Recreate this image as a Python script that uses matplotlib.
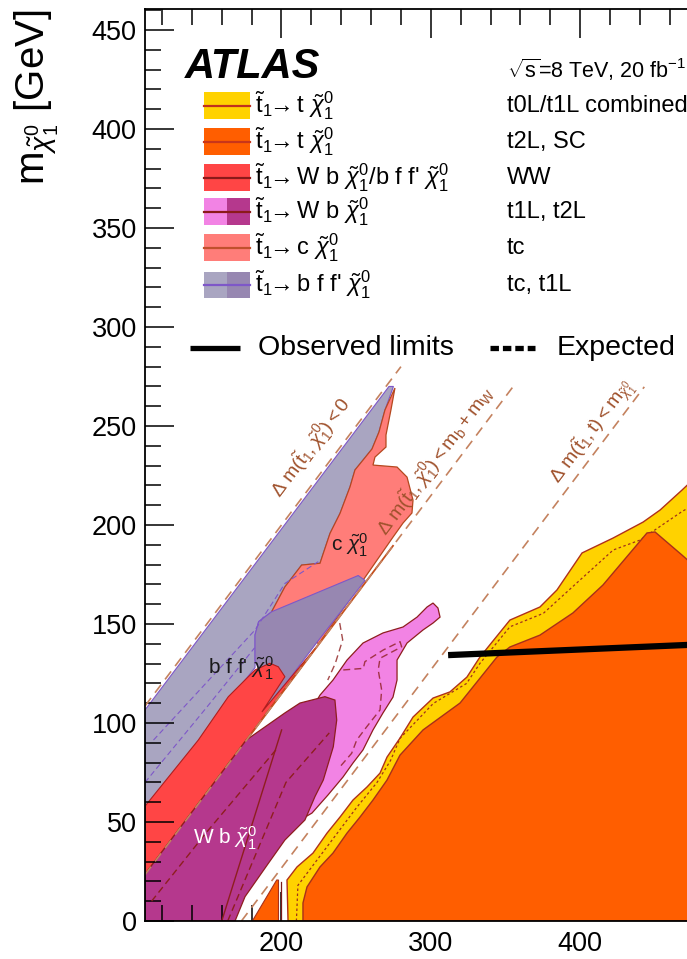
import matplotlib
matplotlib.use('Agg')
import matplotlib.pyplot as plt
from matplotlib.patches import Rectangle
from matplotlib.lines import Line2D
import numpy as np

plt.rcParams['font.family'] = ['Liberation Sans', 'DejaVu Sans']
plt.rcParams['mathtext.fontset'] = 'custom'
plt.rcParams['mathtext.rm'] = 'Liberation Sans'
plt.rcParams['mathtext.it'] = 'Liberation Sans:italic'
plt.rcParams['mathtext.bf'] = 'Liberation Sans:bold'

# ---------------- axis ranges and ticks ----------------
x_range = [108.6, 471.6]
y_range = [0.0, 460.5]
x_major = [200, 300, 400]
x_minor = list(range(120, 480, 20))
y_major = list(range(0, 451, 50))
y_minor = list(range(0, 461, 10))

# ---------------- kinematic limits: m_chi = m_stop - offset ----------------
kin_offsets = [0.0, 85.2, 173.2]
kin_x_start = [108.6, 108.6, 173.2]
kin_x_end = [280.0, 355.0, 443.0]
kin_labels = [r'$\Delta\ \mathrm{m}(\tilde{\mathrm{t}}_1,\tilde{\chi}_1^0) < 0$',
              r'$\Delta\ \mathrm{m}(\tilde{\mathrm{t}}_1,\tilde{\chi}_1^0) < \mathrm{m}_\mathrm{b} + \mathrm{m}_\mathrm{W}$',
              r'$\Delta\ \mathrm{m}(\tilde{\mathrm{t}}_1,\mathrm{t}) < \mathrm{m}_{\tilde{\chi}_1^0}$']
kin_label_x = [220.0, 303.5, 408.6]
kin_label_y = [239.0, 232.3, 247.0]

# ---------------- exclusion regions (m_stop, m_chi) ----------------
# t0L/t1L combined (yellow)
yellow_x = [204.4, 203.7, 210.4, 221.1, 230.5, 239.2, 247.9, 257.3, 266.0, 270.7, 279.4, 288.1,
            301.5, 312.8, 324.2, 332.9, 353.0, 373.1, 384.5, 401.3, 422.0, 442.2, 453.6, 468.3,
            480.0, 480.0]
yellow_y = [0.0, 20.7, 27.3, 34.3, 44.4, 52.5, 61.1, 67.7, 74.7, 82.8, 92.4, 103.0,
            112.6, 115.7, 123.2, 133.3, 152.0, 158.6, 167.2, 185.9, 193.4, 201.5, 207.6, 217.7,
            226.0, 0.0]
# expected limit inside the yellow band
yellow_exp_x = [210.0, 211.0, 224.0, 237.0, 250.0, 264.0, 273.0, 279.4, 301.7, 324.0, 332.9,
                353.0, 375.4, 399.9, 422.2, 440.1, 468.0, 480.0]
yellow_exp_y = [0.0, 18.0, 31.0, 44.0, 57.0, 70.0, 81.0, 92.3, 109.9, 120.0, 130.1,
                148.6, 155.4, 172.2, 187.4, 192.4, 206.7, 212.0]

# t2L, SC (orange)
orange_x = [214.4, 214.4, 217.1, 225.8, 234.5, 243.9, 252.6, 261.3, 270.7, 279.4, 294.8, 319.6,
            344.3, 353.0, 373.1, 395.2, 415.3, 444.8, 450.2, 468.3, 480.0, 480.0]
orange_y = [0.0, 9.1, 17.2, 27.3, 34.3, 44.4, 52.5, 61.1, 71.2, 83.8, 96.5, 110.1,
            133.3, 138.4, 144.4, 155.6, 169.7, 196.0, 196.5, 184.8, 177.0, 0.0]
orange2_x = [180.5, 196.8, 198.0, 198.0]
orange2_y = [0.0, 20.7, 20.7, 0.0]
gap_line_x = [200.0, 200.0]
gap_line_y = [0.0, 19.5]

# tc, t1L: b f f' chi (light lavender)
lav_x = [108.6, 272.0, 275.0, 269.3, 265.3, 260.6, 254.6, 249.2, 245.9, 239.2, 232.5, 228.0,
         225.8, 213.5, 202.3, 193.4, 184.7, 182.3, 182.3, 164.4, 144.3, 108.6]
lav_y = [106.6, 270.0, 270.0, 258.1, 247.0, 238.4, 232.8, 227.8, 219.3, 205.9, 195.8, 185.7,
         180.7, 179.8, 168.8, 156.2, 151.2, 144.5, 128.0, 111.0, 89.0, 56.0]
# t1L part (darker lavender)
dlav_x = [251.4, 193.4, 184.7, 182.3, 182.3, 185.0, 188.0, 205.0, 224.0, 240.0, 256.0]
dlav_y = [174.5, 156.2, 151.2, 144.5, 131.8, 127.0, 106.0, 122.0, 141.0, 156.5, 172.0]

# tc: c chi (salmon)
salmon_x = [276.0, 273.3, 270.0, 270.0, 262.6, 261.3, 277.4, 284.1, 288.1, 287.4, 281.4, 274.7,
            225.0, 193.4, 202.3, 213.5, 225.8, 228.0, 232.5, 239.2, 245.9, 249.2, 254.6, 260.6,
            265.3, 269.3]
salmon_y = [269.2, 258.1, 245.5, 239.4, 234.3, 230.3, 229.3, 224.2, 212.6, 206.1, 201.0, 193.9,
            140.0, 156.2, 168.8, 179.8, 180.7, 185.7, 195.8, 205.9, 219.3, 227.8, 232.8, 238.4,
            247.0, 258.1]

# WW (red)
red_x = [108.6, 224.0, 186.9, 202.3, 197.9, 192.3, 182.3, 164.4, 144.3, 108.6]
red_y = [23.6, 139.0, 105.6, 123.4, 128.4, 130.2, 126.8, 113.3, 91.4, 58.0]

# t2L (pink)
pink_x = [212.4, 219.1, 225.8, 234.5, 243.9, 254.6, 268.0, 281.4, 290.8, 297.5, 301.5, 304.8,
          306.2, 301.5, 294.8, 284.1, 277.4, 277.4, 274.7, 268.0, 261.3, 254.6, 247.9, 241.2,
          231.1, 220.4, 212.4]
pink_y = [91.4, 105.6, 114.1, 121.7, 131.8, 140.4, 145.5, 148.5, 153.5, 158.6, 160.6, 158.1,
          153.5, 150.5, 147.0, 140.4, 131.8, 121.7, 113.1, 105.1, 96.5, 86.4, 79.8, 72.7,
          63.6, 54.5, 51.0]
pink_exp_x = [241.4, 254.8, 255.9, 268.2, 279.4, 280.5, 266.0, 264.8, 267.1, 266.0, 257.1, 250.4,
              247.0, 239.2]
pink_exp_y = [126.8, 127.6, 131.0, 136.9, 141.1, 138.5, 132.7, 126.8, 116.7, 106.6, 98.1, 91.4,
              84.7, 77.9]
pink_exp2_x = [239.0, 241.0, 236.0, 231.0]
pink_exp2_y = [150.5, 142.0, 130.0, 121.7]

# t1L (magenta)
mag_x = [108.6, 108.6, 176.4, 202.3, 212.4, 229.1, 235.8, 237.0, 234.7, 228.0, 222.4, 215.7,
         202.3, 191.2, 175.6, 168.9]
mag_y = [0.0, 23.6, 91.4, 105.1, 110.1, 113.3, 111.6, 101.5, 88.0, 71.2, 62.8, 51.0,
         40.9, 29.1, 12.3, 0.0]
mag_line1_x = [113.0, 150.0, 198.0]
mag_line1_y = [10.0, 45.0, 88.0]
mag_line2_x = [160.0, 200.1]
mag_line2_y = [0.0, 96.5]
mag_line3_x = [164.0, 203.0, 232.0]
mag_line3_y = [0.0, 70.0, 95.0]

# purple contours inside lavender
pur1_x = [114.3, 182.3, 202.3, 224.6]
pur1_y = [91.4, 147.0, 170.5, 181.5]
pur2_x = [108.6, 150.0, 182.0]
pur2_y = [70.0, 108.0, 138.0]

# observed limit segment
obs_x = [311.6, 480.0]
obs_y = [134.3, 139.7]

# ---------------- legend content ----------------
arrow = r'$\tilde{\mathrm{t}}_1\!\!\rightarrow\!\!$'
leg_labels = [arrow + r' t $\tilde{\chi}_1^0$',
              arrow + r' t $\tilde{\chi}_1^0$',
              arrow + r" W b $\tilde{\chi}_1^0$/b f f' $\tilde{\chi}_1^0$",
              arrow + r' W b $\tilde{\chi}_1^0$',
              arrow + r' c $\tilde{\chi}_1^0$',
              arrow + r" b f f' $\tilde{\chi}_1^0$"]
leg_analyses = ['t0L/t1L combined', 't2L, SC', 'WW', 't1L, t2L', 'tc', 'tc, t1L']

# colours
c_yellow = '#FFD200'
c_orange = '#FF5E00'
c_red = '#FF4545'
c_pink = '#F283E4'
c_mag = '#B5388D'
c_salmon = '#FF7D79'
c_lav = '#A9A5C1'
c_dlav = '#9787B1'
c_dark = '#8E1E1E'
c_kin = '#C4825F'
c_kin_txt = '#A0522D'
c_purple = '#7E57C8'

leg_left = [c_yellow, c_orange, c_red, c_pink, c_salmon, c_lav]
leg_right = [c_yellow, c_orange, c_red, c_mag, c_salmon, c_dlav]
leg_line = ['#C0301E', '#C8361A', '#8B1A1A', '#8B1A1A', '#C0502D', c_purple]

# ---------------- figure ----------------
fig = plt.figure(figsize=(6.87, 9.59), dpi=100)
ax = fig.add_axes([145 / 687, 38 / 959, 542 / 687, 911.7 / 959])
ax.set_xlim(*x_range)
ax.set_ylim(*y_range)

# regions
ax.fill(lav_x, lav_y, color=c_lav, ec=c_purple, lw=0.8, zorder=1.0)
ax.fill(salmon_x, salmon_y, color=c_salmon, ec='#B5481E', lw=0.9, zorder=1.1)
ax.fill(dlav_x, dlav_y, color=c_dlav, ec=c_purple, lw=0.8, zorder=1.2)
ax.plot(pur1_x, pur1_y, color=c_purple, lw=0.8, ls=(0, (5, 3)), zorder=1.25)
ax.plot(pur2_x, pur2_y, color=c_purple, lw=0.8, ls=(0, (5, 3)), zorder=1.25)
ax.fill(red_x, red_y, color=c_red, ec='#B01E1E', lw=0.8, zorder=1.3)
ax.fill(pink_x, pink_y, color=c_pink, ec=c_dark, lw=0.9, zorder=1.4)
ax.plot(pink_exp_x, pink_exp_y, color=c_dark, lw=1.0, ls=(0, (5, 3)), alpha=0.8, zorder=1.45)
ax.plot(pink_exp2_x, pink_exp2_y, color=c_dark, lw=1.0, ls=(0, (5, 3)), alpha=0.8, zorder=1.45)
ax.fill(mag_x, mag_y, color=c_mag, ec=c_dark, lw=0.9, zorder=1.5)
ax.plot(mag_line1_x, mag_line1_y, color=c_dark, lw=1.0, ls=(0, (5, 3)), zorder=1.55)
ax.plot(mag_line2_x, mag_line2_y, color=c_dark, lw=1.0, zorder=1.55)
ax.plot(mag_line3_x, mag_line3_y, color=c_dark, lw=1.0, ls=(0, (5, 3)), zorder=1.55)
ax.fill(yellow_x, yellow_y, color=c_yellow, ec='#B0301A', lw=1.0, zorder=1.6)
ax.plot(yellow_exp_x, yellow_exp_y, color='#A0301A', lw=0.9, ls=(0, (2, 2)), zorder=1.65)
ax.fill(orange_x, orange_y, color=c_orange, ec='#A8301A', lw=1.0, zorder=1.7)
ax.fill(orange2_x, orange2_y, color=c_orange, ec='#A8301A', lw=0.8, zorder=1.7)
ax.plot(gap_line_x, gap_line_y, color='#7A1A1A', lw=0.9, zorder=1.75)

# kinematic boundaries
for off, x0, x1, lab, lx, ly in zip(kin_offsets, kin_x_start, kin_x_end, kin_labels,
                                     kin_label_x, kin_label_y):
    xs = np.array([x0, x1])
    ax.plot(xs, xs - off, color=c_kin, lw=1.2, ls=(0, (6, 4)), zorder=1.8)
    ax.text(lx, ly, lab, color=c_kin_txt, fontsize=14, rotation=53,
            rotation_mode='anchor', ha='center', va='center', zorder=3)
# solid boundary along m_b + m_W
xs = np.array([108.6, 274.7])
ax.plot(xs, xs - kin_offsets[1], color='#C4501E', lw=1.3, zorder=1.35)

# observed limit segment
ax.plot(obs_x, obs_y, color='black', lw=4.5, solid_capstyle='butt', zorder=2)

# region labels
ax.text(173.0, 127.8, r"b f f' $\tilde{\chi}_1^0$", fontsize=15, ha='center', va='center',
        color='#1a1a1a', zorder=3)
ax.text(245.9, 189.9, r"c $\tilde{\chi}_1^0$", fontsize=15, ha='center', va='center',
        color='#1a1a1a', zorder=3)
ax.text(162.2, 41.9, r"W b $\tilde{\chi}_1^0$", fontsize=15, ha='center', va='center',
        color='white', zorder=3)

# ---------------- axes styling ----------------
ax.set_xticks(x_major)
ax.set_xticks(x_minor, minor=True)
ax.set_yticks(y_major)
ax.set_yticks(y_minor, minor=True)
ax.tick_params(which='both', direction='in', top=True, right=False, width=1.1,
               labelsize=19.5, colors='black')
ax.tick_params(which='major', length=21)
ax.tick_params(which='minor', length=11.5)
ax.tick_params(axis='y', pad=6)
ax.tick_params(axis='x', pad=7)
for s in ['left', 'bottom', 'top']:
    ax.spines[s].set_linewidth(1.3)
ax.spines['right'].set_visible(False)

ax.text(-0.2435, 0.9993, r'm$_{\tilde{\chi}_1^0}$ [GeV]', rotation=90, ha='left', va='top',
        fontsize=29, transform=ax.transAxes)

# ---------------- legend ----------------
T = ax.transAxes
ax.text(0.0738, 0.9246, 'ATLAS', fontsize=30, fontweight='bold', fontstyle='italic',
        ha='left', va='baseline', transform=T, zorder=5)
ax.text(0.668, 0.9246, r'$\sqrt{\mathrm{s}}$=8 TeV, 20 fb$^{-1}$', fontsize=15.5,
        ha='left', va='baseline', transform=T, zorder=5)

leg_y = [0.8940, 0.8545, 0.8150, 0.7777, 0.7382, 0.6976]
bx0, bw, bh = 0.1089, 0.0849, 0.0296
for i, yc in enumerate(leg_y):
    ax.add_patch(Rectangle((bx0, yc - bh / 2), bw / 2, bh, transform=T,
                           color=leg_left[i], clip_on=False, zorder=5, lw=0))
    ax.add_patch(Rectangle((bx0 + bw / 2, yc - bh / 2), bw / 2, bh, transform=T,
                           color=leg_right[i], clip_on=False, zorder=5, lw=0))
    ax.add_line(Line2D([bx0, bx0 + bw], [yc, yc], transform=T, color=leg_line[i],
                       lw=1.6, clip_on=False, zorder=6))
    ax.text(0.203, yc, leg_labels[i], fontsize=17, ha='left', va='center',
            transform=T, zorder=6)
    ax.text(0.668, yc, leg_analyses[i], fontsize=17, ha='left', va='center',
            transform=T, zorder=6)

ax.add_line(Line2D([0.083, 0.1753], [0.6285, 0.6285], transform=T, color='black',
                   lw=3.8, solid_capstyle='butt', clip_on=False, zorder=6))
ax.text(0.2085, 0.6285, 'Observed limits', fontsize=20.5, ha='left', va='center',
        transform=T, zorder=6)
ax.add_line(Line2D([0.6365, 0.7196], [0.6285, 0.6285], transform=T, color='black',
                   lw=3.8, dashes=(1.6, 0.75), dash_capstyle='butt', clip_on=False, zorder=6))
ax.text(0.760, 0.6285, 'Expected', fontsize=20.5, ha='left', va='center',
        transform=T, zorder=6)

fig.savefig('out.png', dpi=100)
